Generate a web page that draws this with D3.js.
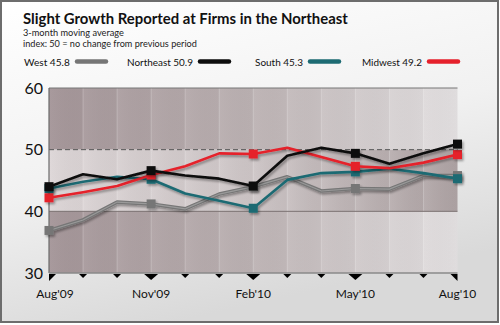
<!DOCTYPE html>
<html><head>
<meta charset="UTF-8">
<title>Slight Growth Reported at Firms in the Northeast</title>
<style>
  body { margin: 0; padding: 0; background: #fff; }
  svg { display: block; font-family: Lato, "Open Sans", Arial, sans-serif; }
</style>
</head>
<body>
<div id="chart"></div>
<script src="https://d3js.org/d3.v7.min.js"></script>
<script>
  // data
  const months = ["Aug'09","Sep'09","Oct'09","Nov'09","Dec'09","Jan'10","Feb'10",
                  "Mar'10","Apr'10","May'10","Jun'10","Jul'10","Aug'10"];
  const west      = [36.9, 38.6, 41.5, 41.2, 40.4, 42.8, 44.0, 45.6, 43.3, 43.7, 43.6, 45.8, 45.8];
  const northeast = [44.0, 46.0, 45.2, 46.6, 45.8, 45.3, 44.1, 49.0, 50.3, 49.4, 47.7, 49.4, 50.9];
  const south     = [43.7, 44.8, 45.6, 45.2, 42.9, 41.7, 40.5, 45.1, 46.2, 46.4, 46.9, 46.2, 45.3];
  const midwest   = [42.2, 43.1, 44.1, 45.9, 47.3, 49.4, 49.3, 50.3, 48.8, 47.3, 47.0, 47.9, 49.2];
  const yTicks = [30, 40, 50, 60];
  const regionNames = ["West", "Northeast", "South", "Midwest"];

  const width = 500, height = 325;
  const margin = {left: 49, right: 42, top: 88, bottom: 52};

  const svg = d3.select("#chart").append("svg")
    .attr("width", width).attr("height", height);
  const defs = svg.append("defs");

  // frame background
  const bg = defs.append("linearGradient").attr("id", "bg")
    .attr("x1", "0").attr("y1", "0").attr("x2", "0.35").attr("y2", "1");
  bg.append("stop").attr("offset", "0%").attr("stop-color", "#ffffff");
  bg.append("stop").attr("offset", "55%").attr("stop-color", "#f1f1f1");
  bg.append("stop").attr("offset", "100%").attr("stop-color", "#d9d9d9");

  svg.append("rect")
    .attr("x", 1).attr("y", 1).attr("width", 497).attr("height", 321)
    .attr("fill", "url(#bg)").attr("stroke", "#6d6d6d").attr("stroke-width", 2);

  function hGrad(id, c1, c2, c3) {
    const g = defs.append("linearGradient").attr("id", id)
      .attr("x1", "0").attr("y1", "0").attr("x2", "1").attr("y2", "0");
    g.append("stop").attr("offset", "0%").attr("stop-color", c1);
    g.append("stop").attr("offset", "50%").attr("stop-color", c2);
    g.append("stop").attr("offset", "100%").attr("stop-color", c3);
  }
  hGrad("outerBand", "#a39497", "#bcb2b3", "#e4e1e2");
  hGrad("midBand", "#ddd6d7", "#cdc5c6", "#aea3a4");

  const stripe = defs.append("linearGradient").attr("id", "stripe")
    .attr("x1", "0").attr("y1", "0").attr("x2", "1").attr("y2", "0");
  stripe.append("stop").attr("offset", "0%").attr("stop-color", "#fff").attr("stop-opacity", 0.06);
  stripe.append("stop").attr("offset", "100%").attr("stop-color", "#000").attr("stop-opacity", 0.02);

  const shadow = defs.append("filter").attr("id", "shadow")
    .attr("x", "-10%").attr("y", "-30%").attr("width", "130%").attr("height", "160%");
  shadow.append("feDropShadow")
    .attr("dx", 1.5).attr("dy", 2).attr("stdDeviation", 1.3)
    .attr("flood-color", "#000").attr("flood-opacity", 0.35);

  const x = d3.scaleLinear()
    .domain([0, months.length - 1])
    .range([margin.left, width - margin.right - 0.5]);
  const y = d3.scaleLinear()
    .domain([30, 60])
    .range([height - margin.bottom, margin.top]);

  const plotW = x.range()[1] - x.range()[0];

  // horizontal bands
  const bands = [[50, 60, "outerBand"], [40, 50, "midBand"], [30, 40, "outerBand"]];
  svg.append("g").selectAll("rect").data(bands).join("rect")
    .attr("x", margin.left).attr("y", d => y(d[1]))
    .attr("width", plotW).attr("height", d => y(d[0]) - y(d[1]))
    .attr("fill", d => "url(#" + d[2] + ")");

  // month stripes
  const cols = d3.range(months.length - 1);
  svg.append("g").selectAll("rect").data(cols).join("rect")
    .attr("x", d => x(d)).attr("y", y(60))
    .attr("width", d => x(d + 1) - x(d)).attr("height", y(30) - y(60))
    .attr("fill", "url(#stripe)");
  svg.append("g").selectAll("line").data(d3.range(1, months.length - 1)).join("line")
    .attr("x1", d => x(d)).attr("x2", d => x(d))
    .attr("y1", y(60)).attr("y2", y(30))
    .attr("stroke", "#fff").attr("stroke-opacity", 0.22).attr("stroke-width", 1);

  // grid lines
  svg.append("line")
    .attr("x1", margin.left).attr("x2", x.range()[1])
    .attr("y1", y(40)).attr("y2", y(40))
    .attr("stroke", "#7a7070").attr("stroke-width", 1);
  svg.append("line")
    .attr("x1", margin.left).attr("x2", x.range()[1])
    .attr("y1", y(50)).attr("y2", y(50))
    .attr("stroke", "#555").attr("stroke-width", 1).attr("stroke-dasharray", "5,3");
  svg.append("line")
    .attr("x1", margin.left).attr("x2", x.range()[1])
    .attr("y1", y(60)).attr("y2", y(60))
    .attr("stroke", "#777").attr("stroke-width", 1);
  svg.append("line")
    .attr("x1", margin.left).attr("x2", margin.left)
    .attr("y1", y(60)).attr("y2", y(30))
    .attr("stroke", "#6a6a6a").attr("stroke-width", 1.2);
  svg.append("line")
    .attr("x1", margin.left).attr("x2", x.range()[1])
    .attr("y1", y(30)).attr("y2", y(30))
    .attr("stroke", "#8a8a8a").attr("stroke-width", 1.6);

  // y axis labels
  svg.append("g").selectAll("text").data(yTicks).join("text")
    .attr("x", 43).attr("y", d => y(d)).attr("dy", "0.35em")
    .attr("text-anchor", "end").attr("font-size", 16).attr("fill", "#111")
    .text(d => d);

  // x ticks: triangles
  const base = y(30) + 1;
  const tickG = svg.append("g");
  months.forEach((m, i) => {
    const big = i % 3 === 0;
    const w = big ? 7 : 4, h = big ? 6 : 4;
    const cx = x(i);
    let pts;
    if (i === 0) pts = [[cx, base], [cx + w, base], [cx, base + h + 1]];
    else if (i === months.length - 1) pts = [[cx - w, base], [cx, base], [cx, base + h + 1]];
    else pts = [[cx - w, base], [cx + w, base], [cx, base + h]];
    tickG.append("path").attr("d", d3.line()(pts) + "Z").attr("fill", "#000");
  });

  svg.append("g").selectAll("text")
    .data(months.map((m, i) => ({m, i})).filter(d => d.i % 3 === 0))
    .join("text")
    .attr("x", d => x(d.i) + (d.i === 0 ? 6 : 0))
    .attr("y", 298)
    .attr("text-anchor", "middle").attr("font-size", 12).attr("fill", "#111")
    .text(d => d.m);

  // series
  const series = [
    {name: "West", values: west, color: "#767676"},
    {name: "South", values: south, color: "#1d6b73"},
    {name: "Midwest", values: midwest, color: "#e5202b"},
    {name: "Northeast", values: northeast, color: "#0d0d0d"}
  ];
  const line = d3.line().x((d, i) => x(i)).y(d => y(d));

  series.forEach(s => {
    const g = svg.append("g").attr("filter", "url(#shadow)");
    g.append("path").datum(s.values)
      .attr("d", line).attr("fill", "none")
      .attr("stroke", s.color).attr("stroke-width", s.name === "West" ? 3.6 : 2.6)
      .attr("stroke-linejoin", "round");
    if (s.name === "West") {
      g.append("path").datum(s.values)
        .attr("d", line).attr("fill", "none")
        .attr("stroke", "#9a9a9a").attr("stroke-width", 1.2);
    }
    g.selectAll("rect")
      .data(s.values.map((v, i) => ({v, i})).filter(d => d.i % 3 === 0))
      .join("rect")
      .attr("x", d => x(d.i) - 4.5).attr("y", d => y(d.v) - 4.5)
      .attr("width", 9).attr("height", 9)
      .attr("fill", s.color);
  });

  // title block
  function fit(sel, target) {
    const w = sel.node().getComputedTextLength();
    const fs = parseFloat(sel.attr("font-size"));
    sel.attr("font-size", (fs * target / w).toFixed(2));
  }
  const title = svg.append("text")
    .attr("x", 23).attr("y", 24)
    .attr("font-size", 15).attr("font-weight", "bold").attr("fill", "#111")
    .text("Slight Growth Reported at Firms in the Northeast");
  fit(title, 325);

  const sub1 = svg.append("text").attr("x", 23).attr("y", 36)
    .attr("font-size", 9.5).attr("fill", "#222").text("3-month moving average");
  fit(sub1, 101);
  const sub2 = svg.append("text").attr("x", 23).attr("y", 47)
    .attr("font-size", 9.5).attr("fill", "#222").text("index: 50 = no change from previous period");
  fit(sub2, 174);

  // legend
  const legendLast = [west, northeast, south, midwest].map(a => a[a.length - 1]);
  const legendColors = ["#767676", "#0d0d0d", "#1d6b73", "#e5202b"];
  const legendX = [24, 127, 255, 362];
  const legendW = [46, 66, 48, 60];
  regionNames.forEach((n, i) => {
    const t = svg.append("text").attr("x", legendX[i]).attr("y", 65.5)
      .attr("font-size", 11).attr("fill", "#111")
      .text(n + " " + legendLast[i].toFixed(1));
    fit(t, legendW[i]);
    const bx = legendX[i] + legendW[i] + 7;
    svg.append("line")
      .attr("x1", bx).attr("x2", bx + 29)
      .attr("y1", 61.5).attr("y2", 61.5)
      .attr("stroke", legendColors[i]).attr("stroke-width", 4.5)
      .attr("stroke-linecap", "round");
  });
</script>
</body></html>
